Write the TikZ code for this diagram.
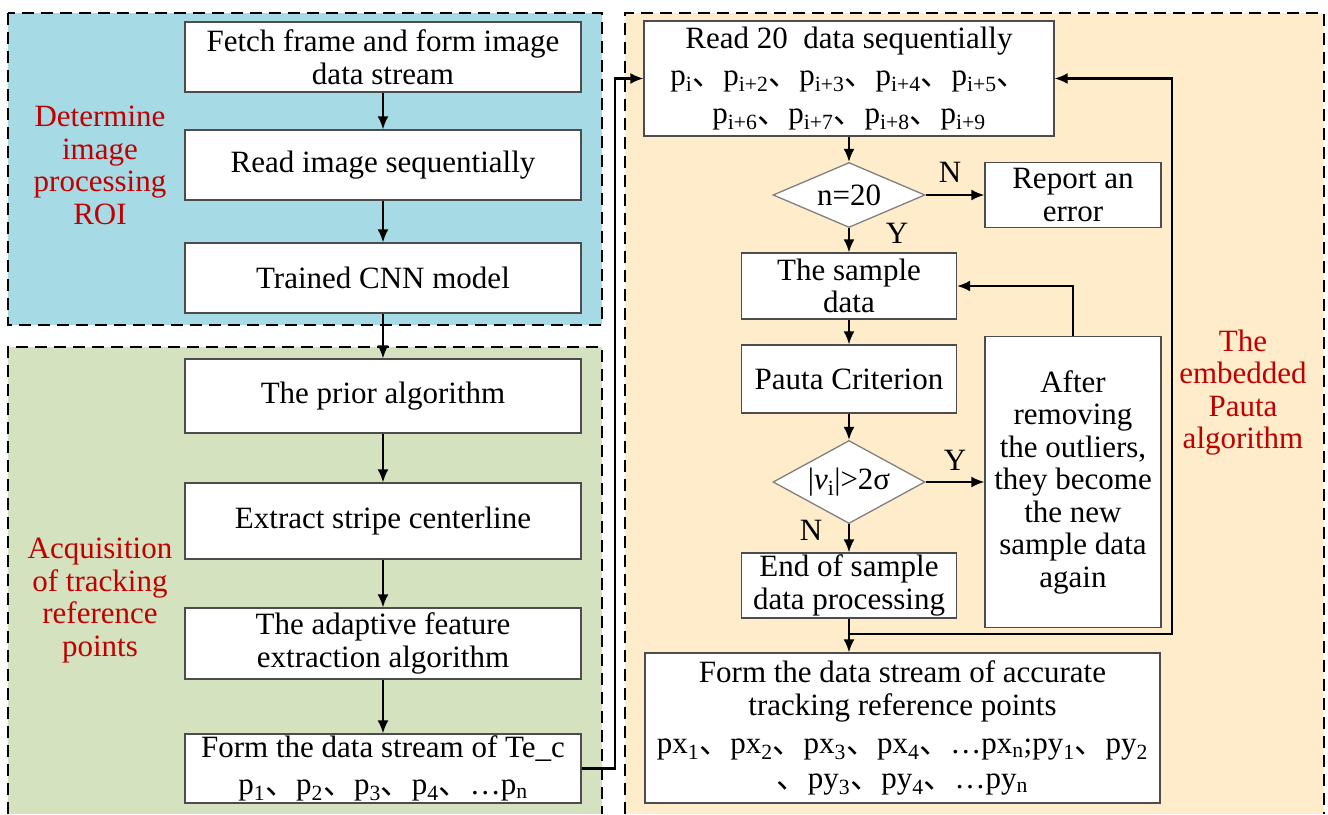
\documentclass[tikz,border=0pt]{standalone}
\usepackage{fontspec}
\setmainfont{Liberation Serif}
\newfontfamily\cjk{Noto Sans CJK SC}
\usetikzlibrary{shapes.geometric,arrows.meta}
\definecolor{roiblue}{RGB}{166,219,229}
\definecolor{acqgreen}{RGB}{212,226,191}
\definecolor{pautabg}{RGB}{255,236,203}
\definecolor{labred}{RGB}{192,0,0}
\newcommand{\bigtxt}{\fontsize{31}{32.5}\selectfont}
\newcommand{\idx}[1]{\textsubscript{#1}}
\newcommand{\dun}{{\cjk 、}}

\begin{document}
\begin{tikzpicture}[x=1pt,y=-1pt,font=\bigtxt,>={Latex[length=13pt,width=11pt]},
  box/.style={draw=black!70,line width=1.3pt,fill=white,align=center,inner sep=0pt},
  choice/.style={diamond,draw=black!50,line width=1.3pt,fill=white,inner sep=0pt,aspect=1.8},
  region/.style={dash pattern=on 12pt off 7pt,line width=2.8pt},
  grouplab/.style={text=labred,align=center},
  flow/.style={->,line width=2.1pt}]
\useasboundingbox (0,0) rectangle (1328,814);
\fill[roiblue] (8,13) rectangle (602,325);
\draw[region] (8,13) rectangle (602,325);
\fill[acqgreen] (8,347) rectangle (602,814);
\draw[region] (8,814) |- (602,347) -- (602,814);
\fill[pautabg] (625,13) rectangle (1324,814);
\draw[region] (625,814) |- (1324,13) -- (1324,814);

\node[box,minimum width=396,minimum height=70] (fetch) at (383,57) {Fetch frame and form image\\data stream};
\node[box,minimum width=396,minimum height=70] (readimg) at (383,165) {Read image sequentially};
\node[box,minimum width=396,minimum height=70] (cnn) at (383,278) {Trained CNN model};
\node[box,minimum width=396,minimum height=74] (prior) at (383,396) {The prior algorithm};
\node[box,minimum width=396,minimum height=76] (extract) at (383,521) {Extract stripe centerline};
\node[box,minimum width=396,minimum height=71] (adaptive) at (383,643.5) {The adaptive feature\\extraction algorithm};
\node[box,minimum width=396,minimum height=69] (tec) at (383,768.5) {Form the data stream of Te\_c\\[4pt]p\idx{1}\dun p\idx{2}\dun p\idx{3}\dun p\idx{4}\dun …p\idx{n}};

\node[box,minimum width=410,minimum height=115] (read20) at (849,78.5) {Read 20~ data sequentially\\[5pt]p\idx{i}\dun p\idx{i+2}\dun p\idx{i+3}\dun p\idx{i+4}\dun p\idx{i+5}\dun\\[5pt]p\idx{i+6}\dun p\idx{i+7}\dun p\idx{i+8}\dun p\idx{i+9}};
\node[choice,minimum width=152,minimum height=65] (n20) at (849,195) {n=20};
\node[box,minimum width=176,minimum height=65] (report) at (1073,195) {Report an\\error};
\node[box,minimum width=215,minimum height=66] (sample) at (849,286) {The sample\\data};
\node[box,minimum width=215,minimum height=68] (pauta) at (849,379) {Pauta Criterion};
\node[choice,minimum width=152,minimum height=83] (vcheck) at (849,482) {|\textit{v}\idx{i}|>2σ};
\node[box,minimum width=215,minimum height=65] (endproc) at (849,585.5) {End of sample\\data processing};
\node[box,minimum width=176,minimum height=291] (after) at (1073,482) {After\\removing\\the outliers,\\they become\\the new\\sample data\\again};
\node[box,minimum width=515,minimum height=150] (final) at (902.5,728) {Form the data stream of accurate\\tracking reference points\\[6pt]px\idx{1}\dun px\idx{2}\dun px\idx{3}\dun px\idx{4}\dun …px\idx{n};py\idx{1}\dun py\idx{2}\\[2pt]\dun py\idx{3}\dun py\idx{4}\dun …py\idx{n}};

\node (nlab1) at (950,172) {N};
\node (ylab1) at (897,233) {Y};
\node (ylab2) at (955,460) {Y};
\node (nlab2) at (811,530) {N};

\node[grouplab] (roilab) at (100,165.5) {Determine\\image\\processing\\ROI};
\node[grouplab] (acqlab) at (100,600.5) {Acquisition\\of tracking\\reference\\points};
\node[grouplab] (pautalab) at (1243,392.5) {The\\embedded\\Pauta\\algorithm};

\foreach \a/\b in {fetch/readimg,readimg/cnn,cnn/prior,prior/extract,extract/adaptive,adaptive/tec}
  \draw[flow] (\a) -- (\b);
\draw[flow] (tec.east) -- ++(33,0) |- (read20.west);
\draw[flow] (read20) -- (n20);
\draw[flow] (n20.east) -- (n20.east -| report.west);
\draw[flow] (n20) -- (sample);
\draw[flow] (sample) -- (pauta);
\draw[flow] (pauta) -- (vcheck);
\draw[flow] (vcheck.east) -- (vcheck.east -| after.west);
\draw[flow] (vcheck) -- (endproc);
\draw[flow] (after.north) |- (sample.east);
\draw[flow] (endproc.south) -- (endproc.south |- final.north);
\coordinate (merge) at (849,634);
\draw[flow] (merge) -- ++(323,0) |- (read20.east);
\end{tikzpicture}
\end{document}
